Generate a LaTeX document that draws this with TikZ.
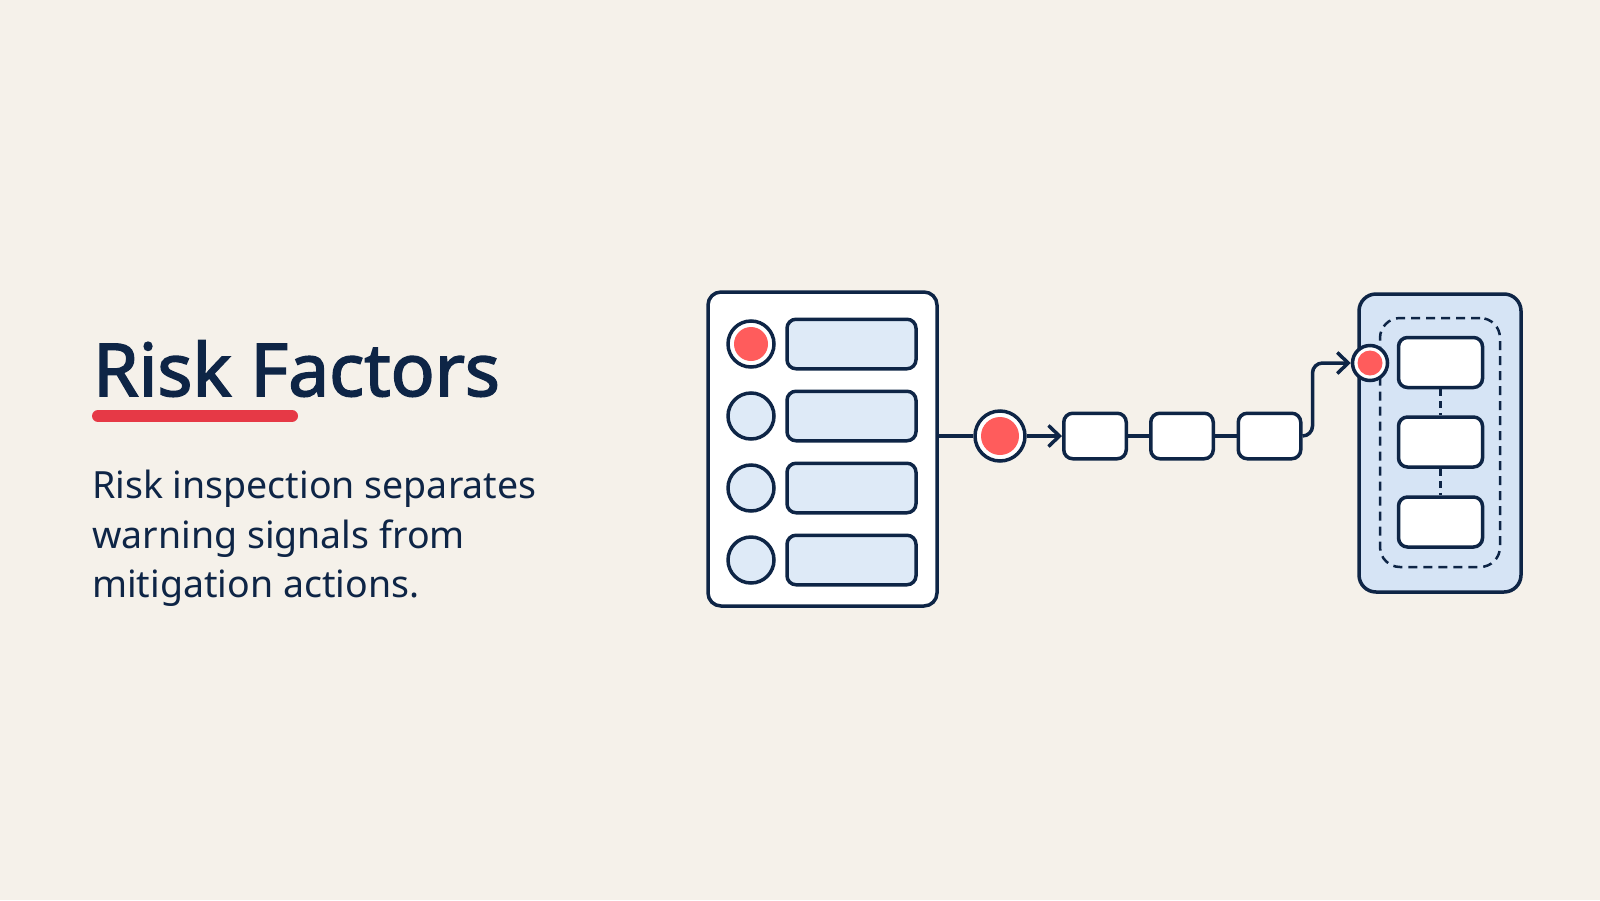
\documentclass[tikz,border=0pt]{standalone}
\usepackage{fontspec}
\setmainfont{Noto Sans}
\newfontfamily\titlefont{Noto Sans}[FakeBold=2.2]
\usetikzlibrary{arrows.meta}
\definecolor{navy}{HTML}{0E2546}
\definecolor{bgc}{HTML}{F5F1EA}
\definecolor{lblue}{HTML}{DEEAF7}
\definecolor{pblue}{HTML}{D6E4F5}
\definecolor{dotred}{HTML}{FF5C5C}
\definecolor{ulred}{HTML}{E63946}
\tikzset{
  outl/.style={draw=navy, line width=3.5pt},
  panelbox/.style={outl, fill=white, rounded corners=13pt, minimum width=229pt, minimum height=314pt, inner sep=0pt},
  barbox/.style={outl, fill=lblue, rounded corners=9pt, minimum width=129pt, minimum height=49.5pt, inner sep=0pt},
  dotc/.style={outl, circle, minimum size=46pt, inner sep=0pt},
  reddot/.style={circle, fill=dotred, inner sep=0pt},
  stepbox/.style={outl, fill=white, rounded corners=9pt, minimum width=62.5pt, minimum height=45.5pt, inner sep=0pt},
  rbox/.style={outl, fill=white, rounded corners=9pt, minimum width=84pt, minimum height=50pt, inner sep=0pt},
  conn/.style={draw=navy, line width=3.5pt},
  arr/.style={-{Straight Barb[length=11pt,width=21pt,line width=3.5pt]}},
  bodytxt/.style={anchor=base west, inner sep=0pt, text=navy, font=\fontsize{37.5pt}{49.5pt}\selectfont},
}
\begin{document}
\begin{tikzpicture}[x=1pt,y=-1pt]
\fill[bgc] (0,0) rectangle (1600,900);
\useasboundingbox (0,0) rectangle (1600,900);
% text
\node[anchor=base west, inner sep=0pt, text=navy, font=\titlefont\fontsize{73pt}{78pt}\selectfont] (title) at (93,396) {Risk Factors};
\draw[ulred, line width=12pt, line cap=round] (98,416) -- (292,416);
\node[bodytxt] (l1) at (92,498) {Risk inspection separates};
\node[bodytxt] (l2) at (92,548) {warning signals from};
\node[bodytxt] (l3) at (92,597) {mitigation actions.};
% left panel
\node[panelbox] (panel) at (822.5,449) {};
\foreach \i/\y in {1/344,2/416,3/488,4/560}{
  \node[barbox] (b\i) at (851.5,\y) {};
}
\node[dotc, fill=white] (c1) at (751,344) {};
\node[reddot, minimum size=34pt] (c1r) at (c1) {};
\node[dotc, fill=lblue] (c2) at (751,416) {};
\node[dotc, fill=lblue] (c3) at (751,488) {};
\node[dotc, fill=lblue] (c4) at (751,560) {};
% hub and steps
\node[outl, circle, fill=white, minimum size=50pt, inner sep=0pt] (hub) at (1000,436) {};
\node[reddot, minimum size=38pt] (hubr) at (hub) {};
\node[stepbox] (s1) at (1095,436) {};
\node[stepbox] (s2) at (1182,436) {};
\node[stepbox] (s3) at (1269.5,436) {};
\draw[conn] (panel.east |- hub) -- (hub.west);
\draw[conn, arr] (hub.east) -- (s1.west);
\draw[conn] (s1.east) -- (s2.west);
\draw[conn] (s2.east) -- (s3.west);
% right panel
\node[outl, fill=pblue, rounded corners=17pt, minimum width=162pt, minimum height=298pt, inner sep=0pt] (rpanel) at (1440,443) {};
\node[draw=navy, line width=2.5pt, dash pattern=on 9pt off 6pt, rounded corners=20pt, minimum width=120pt, minimum height=249pt, inner sep=0pt] (rgroup) at (1440,442.5) {};
\node[rbox] (r1) at (1440.5,362.5) {};
\node[rbox] (r2) at (1440.5,442) {};
\node[rbox] (r3) at (1440.5,522) {};
\draw[navy, line width=2.5pt, dash pattern=on 7pt off 5pt] (r1.south) -- (r2.north);
\draw[navy, line width=2.5pt, dash pattern=on 7pt off 5pt] (r2.south) -- (r3.north);
\node[outl, circle, fill=white, minimum size=35pt, inner sep=0pt] (port) at (1370,363) {};
\node[reddot, minimum size=25pt] (portr) at (port) {};
\draw[conn, arr, rounded corners=10pt] (s3.east) -- ++(10,0) |- (port.west);
\end{tikzpicture}
\end{document}
